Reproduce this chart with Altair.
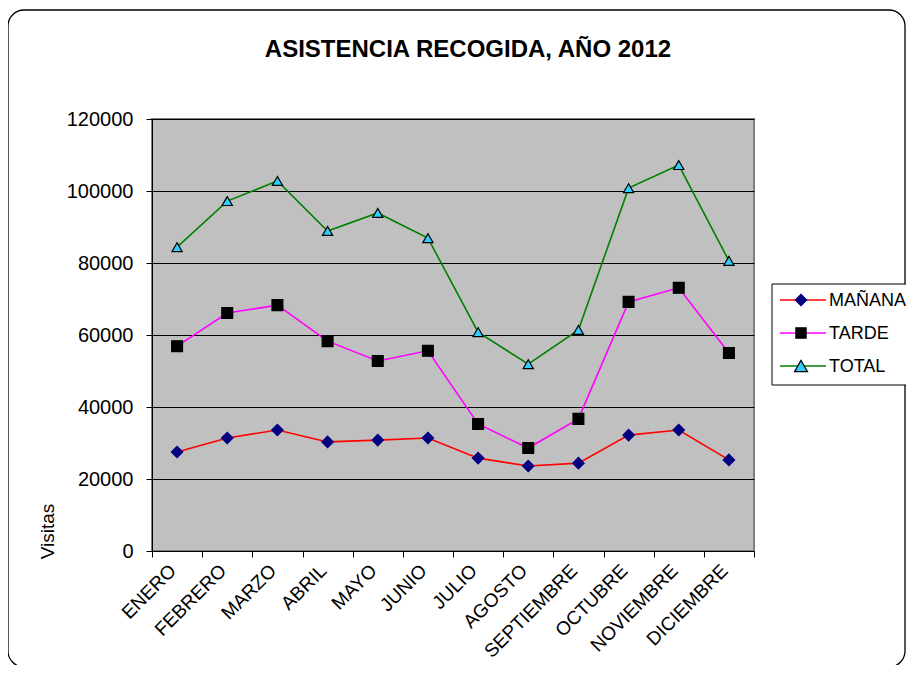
import altair as alt
import pandas as pd

months = ["ENERO", "FEBRERO", "MARZO", "ABRIL", "MAYO", "JUNIO", "JULIO",
          "AGOSTO", "SEPTIEMBRE", "OCTUBRE", "NOVIEMBRE", "DICIEMBRE"]
series = ["MAÑANA", "TARDE", "TOTAL"]
manana = [27500, 31400, 33600, 30300, 30800, 31400, 25800, 23600, 24400, 32200, 33600, 25300]
tarde = [56900, 66100, 68300, 58300, 52800, 55600, 35300, 28600, 36700, 69200, 73100, 55000]
total = [84400, 97200, 102800, 88900, 93900, 86900, 60800, 51900, 61400, 100800, 107200, 80600]
title_text = "ASISTENCIA RECOGIDA, AÑO 2012"

line_colors = ["#FF0000", "#FF00FF", "#008000"]
marker_fill = ["#000080", "#000000", "#33CCFF"]
marker_stroke = ["#000080", "#000000", "#000000"]
marker_shape = ["diamond", "square", "triangle-up"]
marker_size = [130, 105, 170]

rows = []
for name, vals in zip(series, [manana, tarde, total]):
    for m, v in zip(months, vals):
        rows.append({"mes": m, "serie": name, "visitas": v})
df = pd.DataFrame(rows)

FONT = "Liberation Sans"

x_enc = alt.X("mes:N", sort=months, bandPosition=0.5,
              scale=alt.Scale(type="band", paddingInner=0, paddingOuter=0),
              axis=alt.Axis(title=None, tickBand="extent", labelAngle=-45,
                            labelFontSize=19, labelFont=FONT, labelColor="#000",
                            domainColor="#000", tickColor="#000", tickSize=6,
                            labelPadding=4, labelAlign="right", labelBaseline="top",
                            labelOffset=-11))
y_enc = alt.Y("visitas:Q", scale=alt.Scale(domain=[0, 120000], nice=False),
              axis=alt.Axis(title="Visitas", values=[0, 20000, 40000, 60000, 80000, 100000, 120000],
                            format="d", labelFontSize=20, labelFont=FONT, labelColor="#000",
                            titleFontSize=19, titleFont=FONT, titleFontWeight="normal",
                            titleColor="#000", titleX=-105, titleY=412, titleAngle=270,
                            titleAlign="center", titleBaseline="middle",
                            domainColor="#000", tickColor="#000", tickSize=6, labelPadding=13,
                            grid=True, gridColor="#000", gridWidth=1))

lines = alt.Chart(df).mark_line(strokeWidth=1.6).encode(
    x=x_enc, y=y_enc,
    color=alt.Color("serie:N", scale=alt.Scale(domain=series, range=line_colors), legend=None),
    detail="serie:N",
)
points = alt.Chart(df).mark_point(filled=True, opacity=1, strokeWidth=1.2).encode(
    x=x_enc, y=y_enc,
    fill=alt.Fill("serie:N", scale=alt.Scale(domain=series, range=marker_fill), legend=None),
    stroke=alt.Stroke("serie:N", scale=alt.Scale(domain=series, range=marker_stroke), legend=None),
    shape=alt.Shape("serie:N", scale=alt.Scale(domain=series, range=marker_shape), legend=None),
    size=alt.Size("serie:N", scale=alt.Scale(domain=series, range=marker_size), legend=None),
)

one = alt.Data(values=[{"t": title_text}])
border = alt.Chart(one).mark_rect(cornerRadius=16, fill="transparent", stroke="#000", strokeWidth=1.3).encode(
    x=alt.value(-144), x2=alt.value(753), y=alt.value(-109), y2=alt.value(548))
title = alt.Chart(one).mark_text(fontSize=24, font=FONT, fontWeight="bold", color="#000",
                                 align="center", baseline="alphabetic").encode(
    x=alt.value(316), y=alt.value(-62), text="t:N")
legend_box = alt.Chart(one).mark_rect(fill="#FFFFFF", stroke="#000", strokeWidth=1).encode(
    x=alt.value(620), x2=alt.value(758), y=alt.value(165), y2=alt.value(266))

legend_layers = []
for i, name in enumerate(series):
    yy = 181 + 33 * i
    d = alt.Data(values=[{"serie": name}])
    legend_layers.append(alt.Chart(d).mark_rule(color=line_colors[i], strokeWidth=1.6).encode(
        x=alt.value(628), x2=alt.value(674), y=alt.value(yy)))
    legend_layers.append(alt.Chart(d).mark_point(
        shape=marker_shape[i], filled=True, fill=marker_fill[i], stroke=marker_stroke[i],
        strokeWidth=1.2, size=marker_size[i], opacity=1).encode(
        x=alt.value(649), y=alt.value(yy)))
    legend_layers.append(alt.Chart(d).mark_text(
        align="left", baseline="middle", fontSize=18, font=FONT, color="#000").encode(
        x=alt.value(677), y=alt.value(yy + 1), text="serie:N"))

chart = alt.layer(border, title, lines, points, legend_box, *legend_layers).properties(
    width=602, height=432,
    background="#FFFFFF",
    autosize=alt.AutoSizeParams(type="none"),
    padding={"left": 144, "top": 111, "right": 152, "bottom": 114},
).configure_view(fill="#C0C0C0", stroke="#808080", strokeWidth=2)

chart.save("out.html", embed_options={"renderer": "svg", "actions": False})
